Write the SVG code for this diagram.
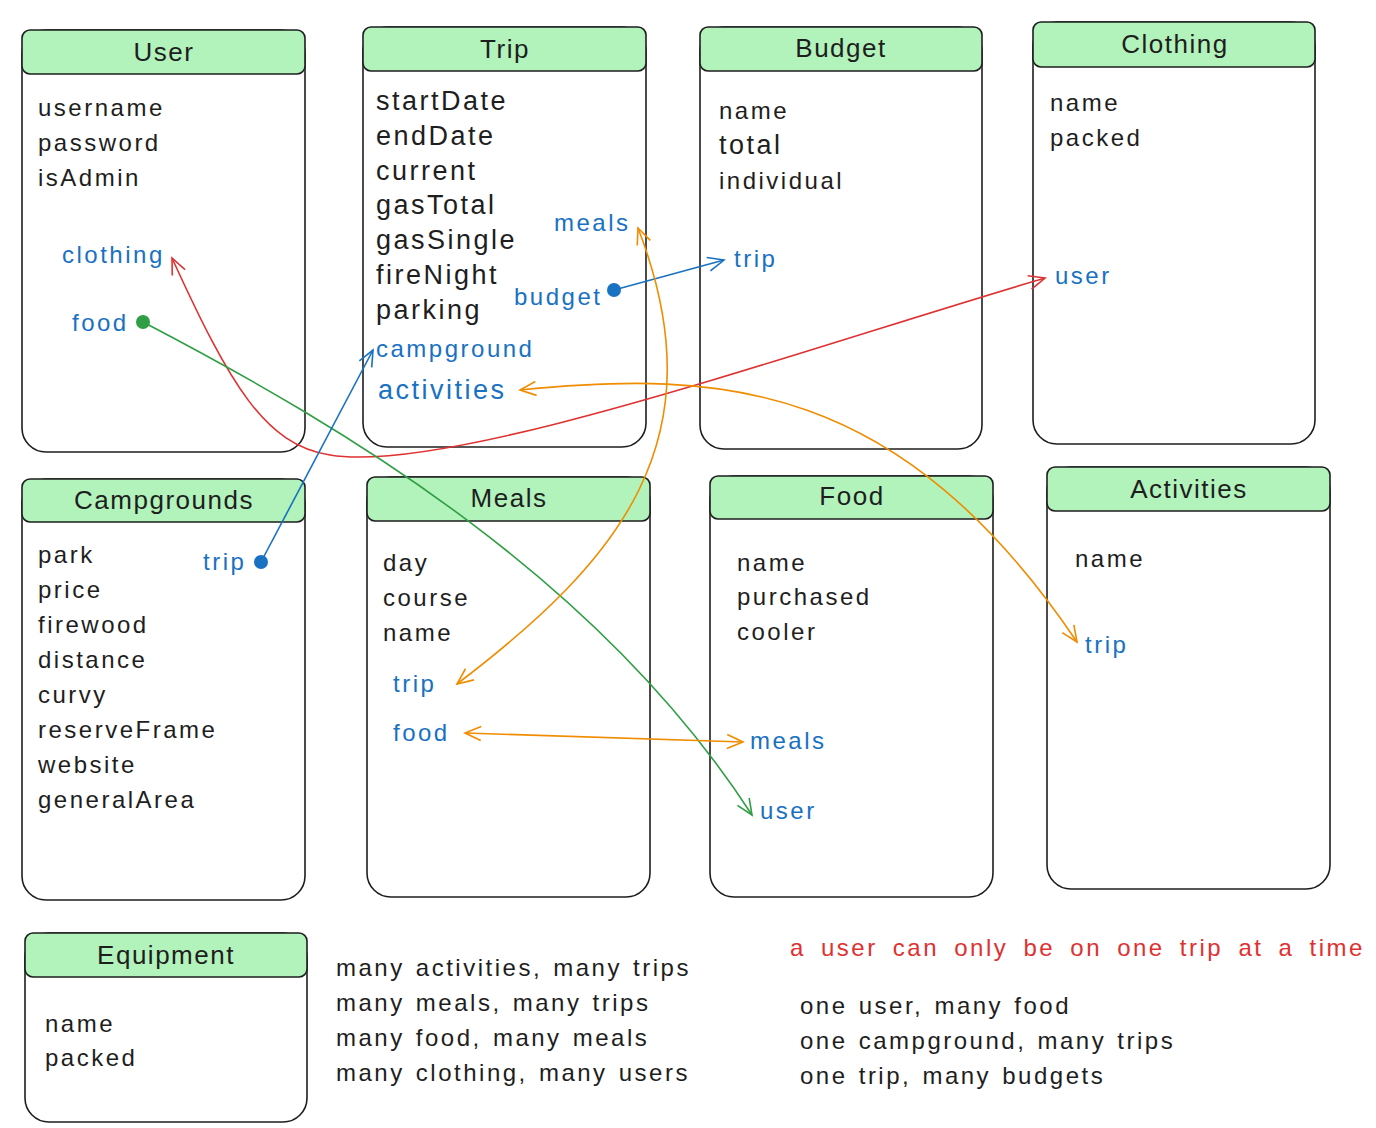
<svg xmlns="http://www.w3.org/2000/svg" width="1376" height="1128" viewBox="0 0 1376 1128">
<style>
.box{fill:#ffffff;stroke:#1e1e1e;stroke-width:1.6}
.hdr{fill:#b2f2bb;stroke:#1e1e1e;stroke-width:1.6}
text{font-family:"Liberation Sans","DejaVu Sans",sans-serif;font-size:24px;letter-spacing:2.5px;word-spacing:2px;fill:#1e1e1e}
.t{font-size:26px;letter-spacing:1.5px;text-anchor:middle}
.lg{font-size:27px;letter-spacing:2.5px}
.b{fill:#1971c2}
.r{fill:#e03131;word-spacing:6px}
.c{fill:none;stroke-width:1.6}
</style>
<defs>
<marker id="ar" viewBox="0 0 20 20" refX="18" refY="10" markerWidth="20" markerHeight="20" markerUnits="userSpaceOnUse" orient="auto-start-reverse"><path d="M2 3 L18 10 L2 17" fill="none" stroke="#e03131" stroke-width="1.6"/></marker>
<marker id="ao" viewBox="0 0 20 20" refX="18" refY="10" markerWidth="20" markerHeight="20" markerUnits="userSpaceOnUse" orient="auto-start-reverse"><path d="M2 3 L18 10 L2 17" fill="none" stroke="#f08c00" stroke-width="1.6"/></marker>
<marker id="ab" viewBox="0 0 20 20" refX="18" refY="10" markerWidth="20" markerHeight="20" markerUnits="userSpaceOnUse" orient="auto-start-reverse"><path d="M2 3 L18 10 L2 17" fill="none" stroke="#1971c2" stroke-width="1.6"/></marker>
<marker id="ag" viewBox="0 0 20 20" refX="18" refY="10" markerWidth="20" markerHeight="20" markerUnits="userSpaceOnUse" orient="auto-start-reverse"><path d="M2 3 L18 10 L2 17" fill="none" stroke="#2f9e44" stroke-width="1.6"/></marker>
</defs>

<g id="user">
<rect class="box" x="22" y="30" width="283" height="422" rx="24"/>
<rect class="hdr" x="22" y="30" width="283" height="44" rx="8"/>
<text class="t" x="164" y="61">User</text>
<text x="38" y="116">username</text>
<text x="38" y="151">password</text>
<text x="38" y="186">isAdmin</text>
<text class="b" x="62" y="263">clothing</text>
<text class="b" x="72" y="331">food</text>
</g>

<g id="trip">
<rect class="box" x="363" y="27" width="283" height="420" rx="24"/>
<rect class="hdr" x="363" y="27" width="283" height="44" rx="8"/>
<text class="t" x="505" y="58">Trip</text>
<text class="lg" x="376" y="110">startDate</text>
<text class="lg" x="376" y="145">endDate</text>
<text class="lg" x="376" y="180">current</text>
<text class="lg" x="376" y="214">gasTotal</text>
<text class="lg" x="376" y="249">gasSingle</text>
<text class="lg" x="376" y="284">fireNight</text>
<text class="lg" x="376" y="319">parking</text>
<text class="b" x="376" y="357">campground</text>
<text class="b lg" x="378" y="399">activities</text>
<text class="b" x="554" y="231">meals</text>
<text class="b" x="514" y="305">budget</text>
</g>

<g id="budget">
<rect class="box" x="700" y="27" width="282" height="422" rx="24"/>
<rect class="hdr" x="700" y="27" width="282" height="44" rx="8"/>
<text class="t" x="841" y="57">Budget</text>
<text x="719" y="119">name</text>
<text class="lg" x="719" y="154">total</text>
<text x="719" y="189">individual</text>
<text class="b" x="734" y="267">trip</text>
</g>

<g id="clothing">
<rect class="box" x="1033" y="22" width="282" height="422" rx="24"/>
<rect class="hdr" x="1033" y="22" width="282" height="45" rx="8"/>
<text class="t" x="1175" y="53">Clothing</text>
<text x="1050" y="111">name</text>
<text x="1050" y="146">packed</text>
<text class="b" x="1055" y="284">user</text>
</g>

<g id="campgrounds">
<rect class="box" x="22" y="479" width="283" height="421" rx="24"/>
<rect class="hdr" x="22" y="479" width="283" height="43" rx="8"/>
<text class="t" x="164" y="509">Campgrounds</text>
<text x="38" y="563">park</text>
<text x="38" y="598">price</text>
<text x="38" y="633">firewood</text>
<text x="38" y="668">distance</text>
<text x="38" y="703">curvy</text>
<text x="38" y="738">reserveFrame</text>
<text x="38" y="773">website</text>
<text x="38" y="808">generalArea</text>
<text class="b" x="203" y="570">trip</text>
</g>

<g id="meals">
<rect class="box" x="367" y="477" width="283" height="420" rx="24"/>
<rect class="hdr" x="367" y="477" width="283" height="44" rx="8"/>
<text class="t" x="509" y="507">Meals</text>
<text x="383" y="571">day</text>
<text x="383" y="606">course</text>
<text x="383" y="641">name</text>
<text class="b" x="393" y="692">trip</text>
<text class="b" x="393" y="741">food</text>
</g>

<g id="food">
<rect class="box" x="710" y="476" width="283" height="421" rx="24"/>
<rect class="hdr" x="710" y="476" width="283" height="43" rx="8"/>
<text class="t" x="852" y="505">Food</text>
<text x="737" y="571">name</text>
<text x="737" y="605">purchased</text>
<text x="737" y="640">cooler</text>
<text class="b" x="750" y="749">meals</text>
<text class="b" x="760" y="819">user</text>
</g>

<g id="activities">
<rect class="box" x="1047" y="467" width="283" height="422" rx="24"/>
<rect class="hdr" x="1047" y="467" width="283" height="44" rx="8"/>
<text class="t" x="1189" y="498">Activities</text>
<text x="1075" y="567">name</text>
<text class="b" x="1085" y="653">trip</text>
</g>

<g id="equipment">
<rect class="box" x="25" y="933" width="282" height="189" rx="24"/>
<rect class="hdr" x="25" y="933" width="282" height="44" rx="8"/>
<text class="t" x="166" y="964">Equipment</text>
<text x="45" y="1032">name</text>
<text x="45" y="1066">packed</text>
</g>

<g id="notes">
<text x="336" y="976">many activities, many trips</text>
<text x="336" y="1011">many meals, many trips</text>
<text x="336" y="1046">many food, many meals</text>
<text x="336" y="1081">many clothing, many users</text>
<text class="r" x="790" y="956">a user can only be on one trip at a time</text>
<text x="800" y="1014">one user, many food</text>
<text x="800" y="1049">one campground, many trips</text>
<text x="800" y="1084">one trip, many budgets</text>
</g>

<g id="connectors">
<path class="c" stroke="#e03131" d="M1045 278 C 800 350, 450 475, 330 455 C 265 445, 230 385, 172 258" marker-start="url(#ar)" marker-end="url(#ar)"/>
<path class="c" stroke="#2f9e44" d="M143 322 C 350 430, 600 580, 752 815" marker-end="url(#ag)"/>
<circle cx="143" cy="322" r="7" fill="#2f9e44"/>
<path class="c" stroke="#1971c2" d="M261 562 L 373 350" marker-end="url(#ab)"/>
<circle cx="261" cy="562" r="7" fill="#1971c2"/>
<path class="c" stroke="#1971c2" d="M614 290 L 724 260" marker-end="url(#ab)"/>
<circle cx="614" cy="290" r="7" fill="#1971c2"/>
<path class="c" stroke="#f08c00" d="M457 684 C 620 560, 720 440, 638 228" marker-start="url(#ao)" marker-end="url(#ao)"/>
<path class="c" stroke="#f08c00" d="M520 390 C 720 370, 900 380, 1077 642" marker-start="url(#ao)" marker-end="url(#ao)"/>
<path class="c" stroke="#f08c00" d="M465 733 L 743 742" marker-start="url(#ao)" marker-end="url(#ao)"/>
</g>
</svg>
